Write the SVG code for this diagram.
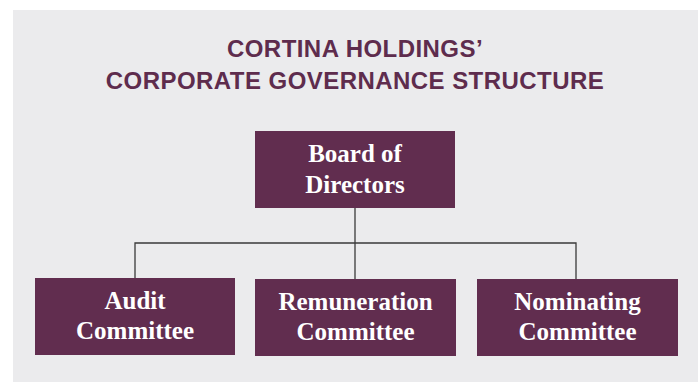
<svg xmlns="http://www.w3.org/2000/svg" width="698" height="382" viewBox="0 0 698 382">
<style>
.title{font-family:"Liberation Sans",Arial,sans-serif;font-weight:bold;font-size:24px;fill:#5e2c4d;text-anchor:middle;letter-spacing:0.45px}
.box{fill:#612d4f}
.lbl{font-family:"Liberation Serif","Times New Roman",serif;font-weight:bold;font-size:25px;fill:#ffffff;text-anchor:middle}
.conn{stroke:#3a3a3a;stroke-width:1.3;fill:none}
</style>
<rect x="13" y="10" width="685" height="372" fill="#ebebed"/>
<text class="title" x="355" y="57">CORTINA HOLDINGS’</text>
<text class="title" x="355" y="89">CORPORATE GOVERNANCE STRUCTURE</text>
<g id="connectors">
<path class="conn" d="M355 208 V279"/>
<path class="conn" d="M135 278 V243 H576 V279"/>
</g>
<g id="board">
<rect class="box" x="255" y="131" width="200" height="77"/>
<text class="lbl" x="355" y="162">Board of</text>
<text class="lbl" x="355" y="193">Directors</text>
</g>
<g id="audit">
<rect class="box" x="35" y="278" width="200" height="77"/>
<text class="lbl" x="135" y="309">Audit</text>
<text class="lbl" x="135" y="339">Committee</text>
</g>
<g id="remuneration">
<rect class="box" x="255" y="279" width="201" height="77"/>
<text class="lbl" x="355.5" y="310">Remuneration</text>
<text class="lbl" x="355.5" y="340">Committee</text>
</g>
<g id="nominating">
<rect class="box" x="477" y="279" width="201" height="77"/>
<text class="lbl" x="577.5" y="310">Nominating</text>
<text class="lbl" x="577.5" y="340">Committee</text>
</g>
</svg>
